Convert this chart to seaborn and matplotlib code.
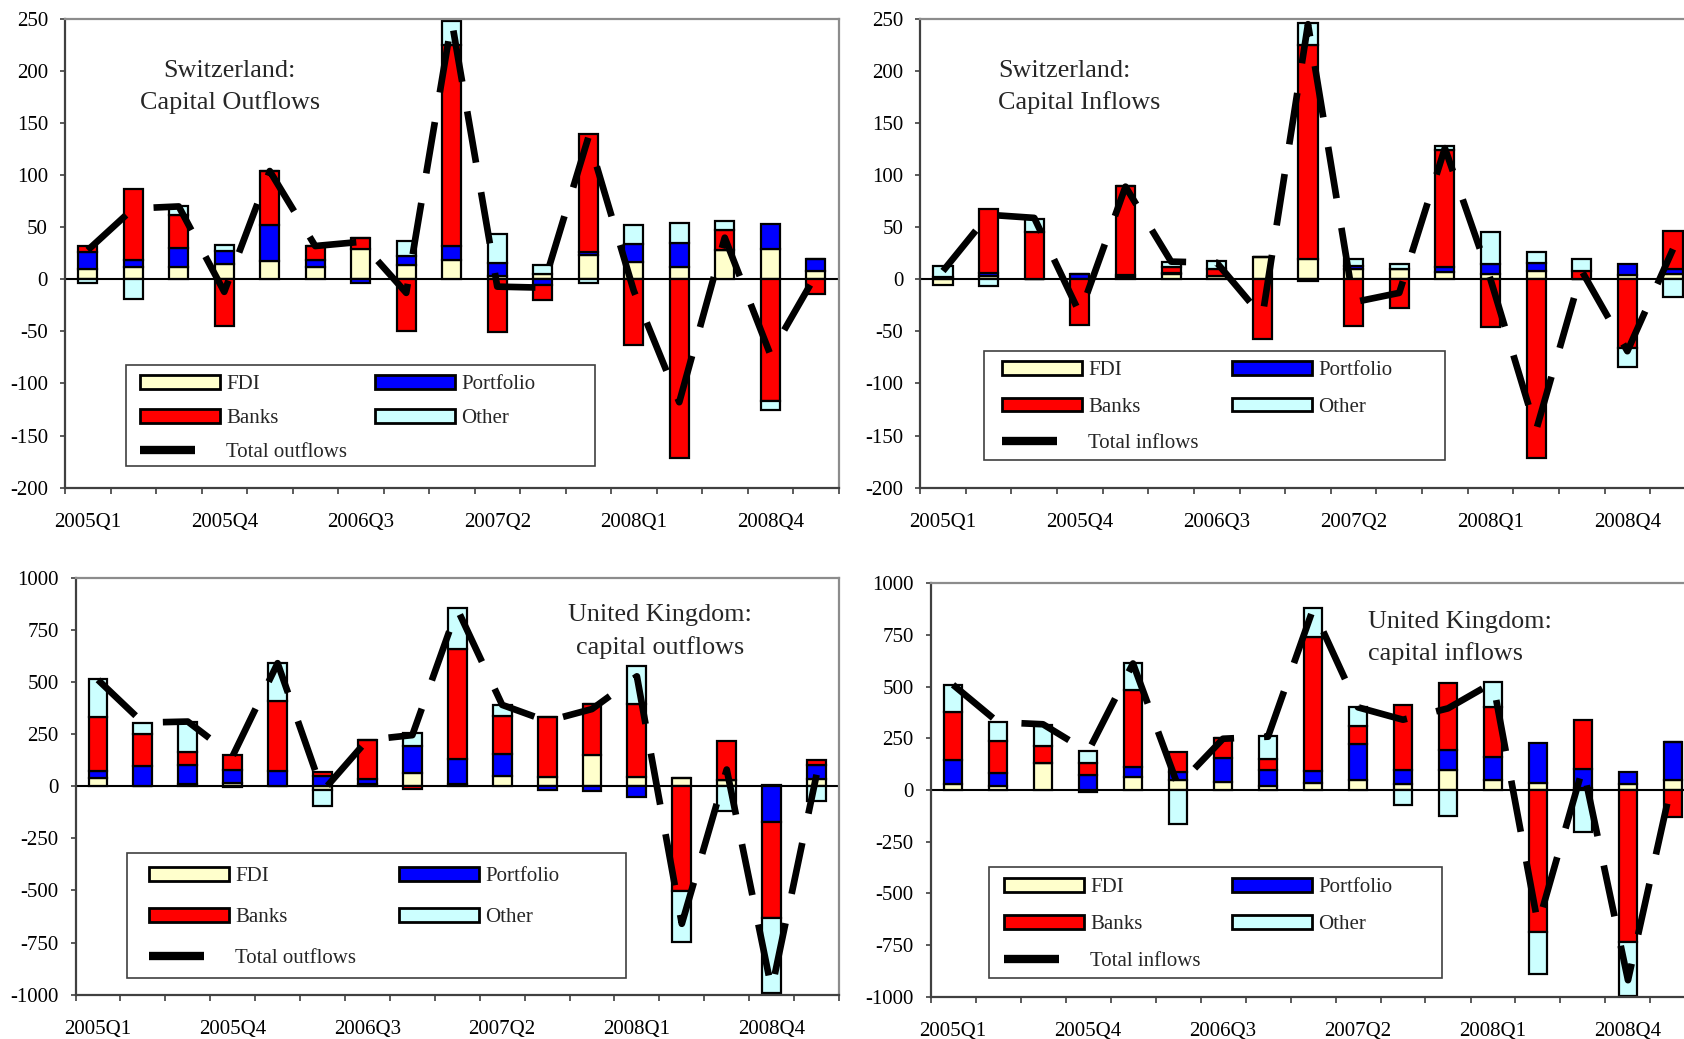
import numpy as np
import matplotlib
matplotlib.use("Agg")
import matplotlib.pyplot as plt
import seaborn as sns
from matplotlib.patches import Patch, Rectangle
from matplotlib.lines import Line2D
from matplotlib.legend_handler import HandlerBase

##############################################################################
# data
##############################################################################
quarters = ["2005Q1", "2005Q2", "2005Q3", "2005Q4", "2006Q1", "2006Q2",
            "2006Q3", "2006Q4", "2007Q1", "2007Q2", "2007Q3", "2007Q4",
            "2008Q1", "2008Q2", "2008Q3", "2008Q4", "2009Q1"]

# Switzerland, capital outflows
ch_out_fdi = [10, 12, 12, 15, 18, 12, 29, 14, 19, 3, 5, 23, 17, 12, 28, 29, 8]
ch_out_port = [16, 7, 18, 12, 34, 7, -4, 8, 13, 13, -5, 3, 17, 23, 0, 24, 12]
ch_out_banks = [6, 68, 32, -45, 52, 13, 11, -50, 193, -51, -15, 114, -63, -172, 19, -117, -14]
ch_out_other = [-4, -19, 8, 6, 0, 0, 0, 15, 23, 28, 9, -4, 18, 19, 9, -8, 0]
ch_out_total = [28, 68, 70, -12, 104, 32, 36, -13, 248, -7, -8, 136, -11, -118, 40, -72, 4]

# Switzerland, capital inflows
ch_in_fdi = [-5, 3, 0, 0, 2, 5, 3, 21, 20, 10, 10, 7, 5, 8, 0, 4, 5]
ch_in_port = [2, 3, 0, 5, 2, 1, 0, 0, -2, 3, 0, 5, 10, 8, 0, 11, 5]
ch_in_banks = [0, 62, 45, -44, 86, 6, 7, -57, 205, -45, -28, 112, -46, -172, 8, -66, 36]
ch_in_other = [11, -6, 13, 0, 0, 5, 8, 0, 21, 7, 5, 4, 30, 10, 12, -18, -17]
ch_in_total = [8, 62, 59, -33, 89, 17, 16, -36, 245, -22, -13, 126, 0, -145, 8, -69, 29]

# United Kingdom, capital outflows
uk_out_fdi = [40, 3, 12, 15, 3, -18, 10, 63, 10, 50, 43, 148, 43, 40, 32, 5, 35]
uk_out_port = [35, 92, 88, 63, 70, 48, 25, 130, 120, 105, -20, -25, -50, 0, 0, -174, 65]
uk_out_banks = [255, 155, 65, 70, 335, 21, 187, -12, 530, 180, 287, 246, 351, -503, 185, -458, 24]
uk_out_other = [185, 55, 145, -5, 185, -78, 0, 60, 197, 55, 0, 0, 183, -246, -117, -358, -69]
uk_out_total = [510, 305, 310, 145, 590, -25, 222, 245, 850, 390, 312, 370, 527, -660, 80, -975, 55]

# United Kingdom, capital inflows
uk_in_fdi = [30, 20, 130, -8, 65, 48, 40, 21, 32, 48, 30, 97, 48, 32, 10, 30, 50]
uk_in_port = [113, 60, 0, 73, 48, 41, 116, 76, 60, 174, 65, 97, 110, 193, 92, 55, 181]
uk_in_banks = [234, 158, 85, 56, 371, 96, 94, 51, 650, 89, 315, 324, 242, -689, 238, -737, -129]
uk_in_other = [132, 92, 100, 60, 129, -166, 0, 113, 137, 89, -72, -127, 124, -200, -202, -258, 0]
uk_in_total = [509, 328, 318, 185, 612, 20, 248, 258, 875, 400, 340, 395, 520, -650, 110, -920, 60]

component_names = ["FDI", "Portfolio", "Banks", "Other"]
component_colors = ["#FFFFCC", "#0000FF", "#FF0000", "#CCFFFF"]

##############################################################################
# settings
##############################################################################
W, H = 1684, 1039
sns.set_theme(style="ticks")
plt.rcParams["font.family"] = ["Liberation Serif", "DejaVu Serif"]
plt.rcParams["axes.unicode_minus"] = False


def fx(px):
    return px / W


def fy(py):
    return 1 - py / H


class ShortLineHandler(HandlerBase):
    # legend line shorter than the patch handles, like the original
    def create_artists(self, legend, orig_handle, xdescent, ydescent,
                       width, height, fontsize, trans):
        y = height / 2 - ydescent
        line = Line2D([-xdescent, -xdescent + 0.68 * width], [y, y],
                      color="black", linewidth=6, solid_capstyle="butt",
                      transform=trans)
        return [line]


panels = [
    dict(rect=(65, 19, 773.5, 468.6),
         comps=(ch_out_fdi, ch_out_port, ch_out_banks, ch_out_other),
         total=ch_out_total, ylim=(-200, 250), step=50,
         title=("Switzerland:", "Capital Outflows"), tx=229.7,
         tb=(77, 109), tha="center", total_label="Total outflows",
         box=(126, 365, 595, 466), c1=140, c2=375, r1=382, gap=33),
    dict(rect=(920.2, 19, 775.6, 468.6),
         comps=(ch_in_fdi, ch_in_port, ch_in_banks, ch_in_other),
         total=ch_in_total, ylim=(-200, 250), step=50,
         title=("Switzerland:", "Capital Inflows"), tx=998,
         tb=(77, 109), tha="left", total_label="Total inflows",
         box=(984, 351, 1445, 460), c1=1002, c2=1232, r1=368, gap=35.5),
    dict(rect=(75.5, 577.7, 763.5, 417),
         comps=(uk_out_fdi, uk_out_port, uk_out_banks, uk_out_other),
         total=uk_out_total, ylim=(-1000, 1000), step=250,
         title=("United Kingdom:", "capital outflows"), tx=660,
         tb=(621, 654), tha="center", total_label="Total outflows",
         box=(127, 853, 626, 978), c1=149, c2=399, r1=874, gap=40),
    dict(rect=(930.5, 583.3, 765, 413.4),
         comps=(uk_in_fdi, uk_in_port, uk_in_banks, uk_in_other),
         total=uk_in_total, ylim=(-1000, 1000), step=250,
         title=("United Kingdom:", "capital inflows"), tx=1368,
         tb=(628, 660), tha="left", total_label="Total inflows",
         box=(989, 867, 1442, 978), c1=1004, c2=1232, r1=885, gap=36),
]

##############################################################################
# PLOTS
##############################################################################
fig = plt.figure(figsize=(W / 100, H / 100), dpi=100)
x = np.arange(len(quarters))
legend_size = 15
legend_px = legend_size * 100 / 72

for p in panels:
    l, t, w, h = p["rect"]
    ax = fig.add_axes([fx(l), fy(t + h), fx(w), h / H])

    # stacked bars, positives and negatives stacked separately
    pos_base = np.zeros(len(x))
    neg_base = np.zeros(len(x))
    for vals, color in zip(p["comps"], component_colors):
        v = np.asarray(vals, dtype=float)
        bottom = np.where(v >= 0, pos_base, neg_base)
        ax.bar(x, v, width=0.42, bottom=bottom, color=color,
               edgecolor="black", linewidth=1.6, zorder=2)
        pos_base += np.where(v > 0, v, 0)
        neg_base += np.where(v < 0, v, 0)

    ax.axhline(0, color="black", linewidth=1.5, zorder=1)

    # total line
    sns.lineplot(x=x, y=p["total"], ax=ax, color="black", linewidth=4.8,
                 zorder=5, legend=False)
    tot_line = ax.lines[-1]
    tot_line.set_dashes([7.8, 4.5])
    tot_line.set_dash_capstyle("butt")

    # axes layout
    ax.set_xlim(-0.5, len(x) - 0.5)
    ax.set_ylim(*p["ylim"])
    ax.set_yticks(np.arange(p["ylim"][0], p["ylim"][1] + 1, p["step"]))
    ax.set_xticks(np.arange(-0.5, len(x), 1))
    ax.set_xticklabels([])
    ax.set_xticks(x[::3], minor=True)
    ax.set_xticklabels(quarters[::3], minor=True)
    ax.tick_params(axis="x", which="major", length=4.3, width=1.2,
                   direction="out", color="#404040")
    ax.tick_params(axis="x", which="minor", length=0, pad=18.5,
                   labelsize=15, colors="black")
    ax.tick_params(axis="y", length=3.6, width=1.2, direction="out",
                   pad=8.6, labelsize=15, color="#404040", labelcolor="black")
    for side in ["left", "bottom"]:
        ax.spines[side].set_color("#404040")
        ax.spines[side].set_linewidth(1.6)
    for side in ["top", "right"]:
        ax.spines[side].set_color("#8c8c8c")
        ax.spines[side].set_linewidth(1.6)
    ax.set_facecolor("white")
    ax.grid(False)

    # panel title
    for line_txt, base in zip(p["title"], p["tb"]):
        fig.text(fx(p["tx"]), fy(base), line_txt, ha=p["tha"],
                 va="baseline", fontsize=18.8)

    # legend box and two legend columns
    bx0, by0, bx1, by1 = p["box"]
    fig.add_artist(Rectangle((fx(bx0), fy(by1)), fx(bx1 - bx0), (by1 - by0) / H,
                             transform=fig.transFigure, facecolor="none",
                             edgecolor="#404040", linewidth=1.2, zorder=3))
    patches = [Patch(facecolor=c, edgecolor="black", linewidth=2)
               for c in component_colors]
    tot_handle = Line2D([], [], color="black", linewidth=6)
    spacing = (p["gap"] - 18) / legend_px
    common = dict(loc="upper left", frameon=False, borderpad=0,
                  borderaxespad=0, fontsize=legend_size, handlelength=3.85,
                  handleheight=0.63, handletextpad=0.29,
                  labelspacing=spacing, bbox_transform=fig.transFigure)
    fig.legend([patches[0], patches[2], tot_handle],
               ["FDI", "Banks", p["total_label"]],
               bbox_to_anchor=(fx(p["c1"]), fy(p["r1"] - 7)),
               handler_map={Line2D: ShortLineHandler()}, **common)
    fig.legend([patches[1], patches[3]], ["Portfolio", "Other"],
               bbox_to_anchor=(fx(p["c2"]), fy(p["r1"] - 7)), **common)

fig.savefig("out.png", dpi=100)
